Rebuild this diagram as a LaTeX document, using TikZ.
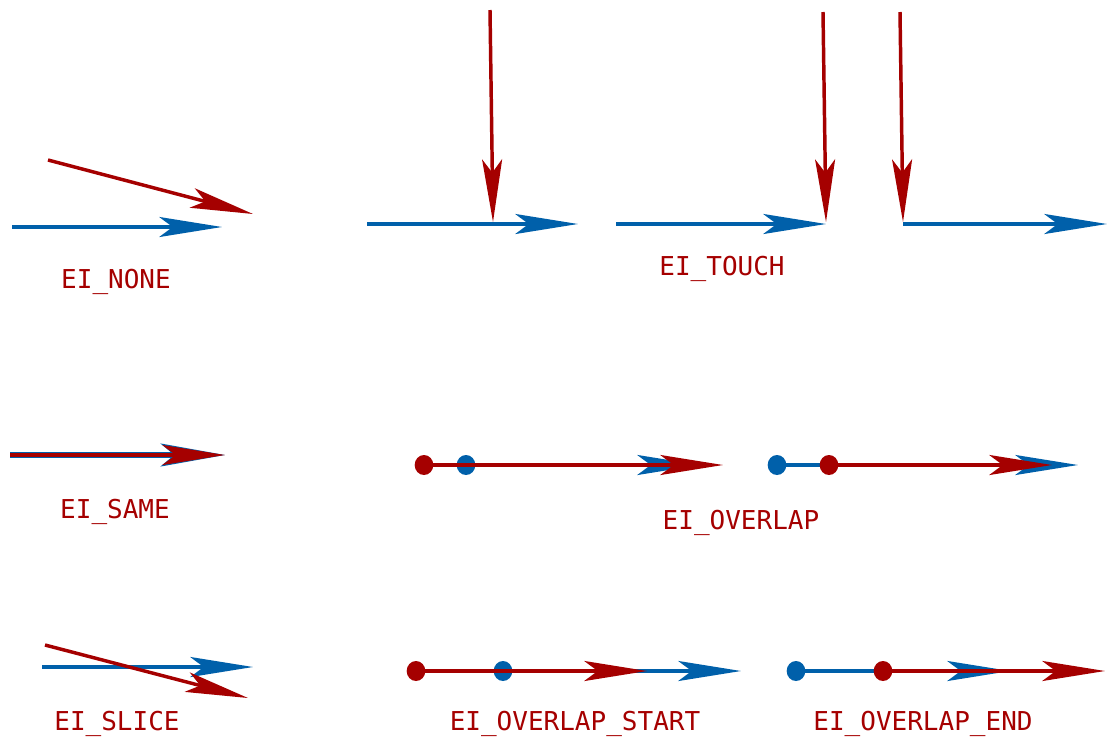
\documentclass[tikz,border=0pt]{standalone}
\usepackage{fontspec}
\setmonofont{DejaVu Sans Mono}
\usetikzlibrary{arrows.meta,shapes.geometric}
\definecolor{eblue}{RGB}{0,96,170}
\definecolor{ered}{RGB}{165,0,0}
\begin{document}
\begin{tikzpicture}[x=0.75pt,y=-0.75pt,
  tipa/.style={-{Stealth[length=47pt,width=15pt,inset=10pt]}},
  bl/.style={draw=eblue,line width=2.6pt,tipa},
  rd/.style={draw=ered,line width=2.6pt,tipa},
  lab/.style={text=ered,font=\ttfamily\fontsize{19.5}{22}\selectfont},
  dot/.style={ellipse,inner sep=0pt,minimum width=14pt,minimum height=15pt},
]
\useasboundingbox (0,0) rectangle (1107,740);

% EI_NONE
\coordinate (n1a) at (48,160);  \coordinate (n1b) at (253,214);
\coordinate (n2a) at (12,227);  \coordinate (n2b) at (222,227);
\draw[bl] (n2a) -- (n2b);
\draw[rd] (n1a) -- (n1b);
\node[lab] (lnone) at (116,282) {EI\_NONE};

% EI_TOUCH
\coordinate (t1a) at (367,224); \coordinate (t1b) at (578,224);
\coordinate (t1c) at (490,10);  \coordinate (t1d) at (493,222);
\draw[bl] (t1a) -- (t1b);
\draw[rd] (t1c) -- (t1d);
\coordinate (t2a) at (616,224); \coordinate (t2b) at (826,224);
\coordinate (t2c) at (823,12);  \coordinate (t2d) at (826,222);
\draw[bl] (t2a) -- (t2b);
\draw[rd] (t2c) -- (t2d);
\coordinate (t3a) at (903,224); \coordinate (t3b) at (1107,224);
\coordinate (t3c) at (900,12);  \coordinate (t3d) at (903,222);
\draw[bl] (t3a) -- (t3b);
\draw[rd] (t3c) -- (t3d);
\node[lab] (ltouch) at (722,269) {EI\_TOUCH};

% EI_SAME
\coordinate (s1a) at (10,455); \coordinate (s1b) at (225,455);
\draw[draw=eblue,line width=4.4pt,-{Stealth[length=48pt,width=17pt,inset=10pt]}] (s1a) -- (s1b);
\draw[rd,line width=2.4pt] (s1a) -- (s1b);
\node[lab] (lsame) at (115,512) {EI\_SAME};

% EI_OVERLAP (1)
\node[dot,fill=eblue] (o1b) at (466,465) {};
\coordinate (o1be) at (700,465);
\draw[bl] (o1b.center) -- (o1be);
\node[dot,fill=ered] (o1r) at (424,465) {};
\coordinate (o1re) at (723,465);
\draw[rd] (o1r.center) -- (o1re);
% EI_OVERLAP (2)
\node[dot,fill=eblue] (o2b) at (777,465) {};
\coordinate (o2be) at (1078,465);
\draw[bl] (o2b.center) -- (o2be);
\node[dot,fill=ered] (o2r) at (829,465) {};
\coordinate (o2re) at (1052,465);
\draw[rd] (o2r.center) -- (o2re);
\node[lab] (loverlap) at (741,523) {EI\_OVERLAP};

% EI_SLICE
\coordinate (c1a) at (42,667);  \coordinate (c1b) at (253,667);
\coordinate (c2a) at (45,645);  \coordinate (c2b) at (248,698);
\draw[bl] (c1a) -- (c1b);
\draw[rd] (c2a) -- (c2b);
\node[lab] (lslice) at (117,724) {EI\_SLICE};

% EI_OVERLAP_START
\node[dot,fill=eblue] (osb) at (503,671) {};
\coordinate (osbe) at (741,671);
\draw[bl] (osb.center) -- (osbe);
\node[dot,fill=ered] (osr) at (416,671) {};
\coordinate (osre) at (647,671);
\draw[rd] (osr.center) -- (osre);
\node[lab] (lostart) at (575,724) {EI\_OVERLAP\_START};

% EI_OVERLAP_END
\node[dot,fill=eblue] (oeb) at (796,671) {};
\coordinate (oebe) at (1010,671);
\draw[bl] (oeb.center) -- (oebe);
\node[dot,fill=ered] (oer) at (883,671) {};
\coordinate (oere) at (1105,671);
\draw[rd] (oer.center) -- (oere);
\node[lab] (loend) at (923,724) {EI\_OVERLAP\_END};
\end{tikzpicture}
\end{document}
